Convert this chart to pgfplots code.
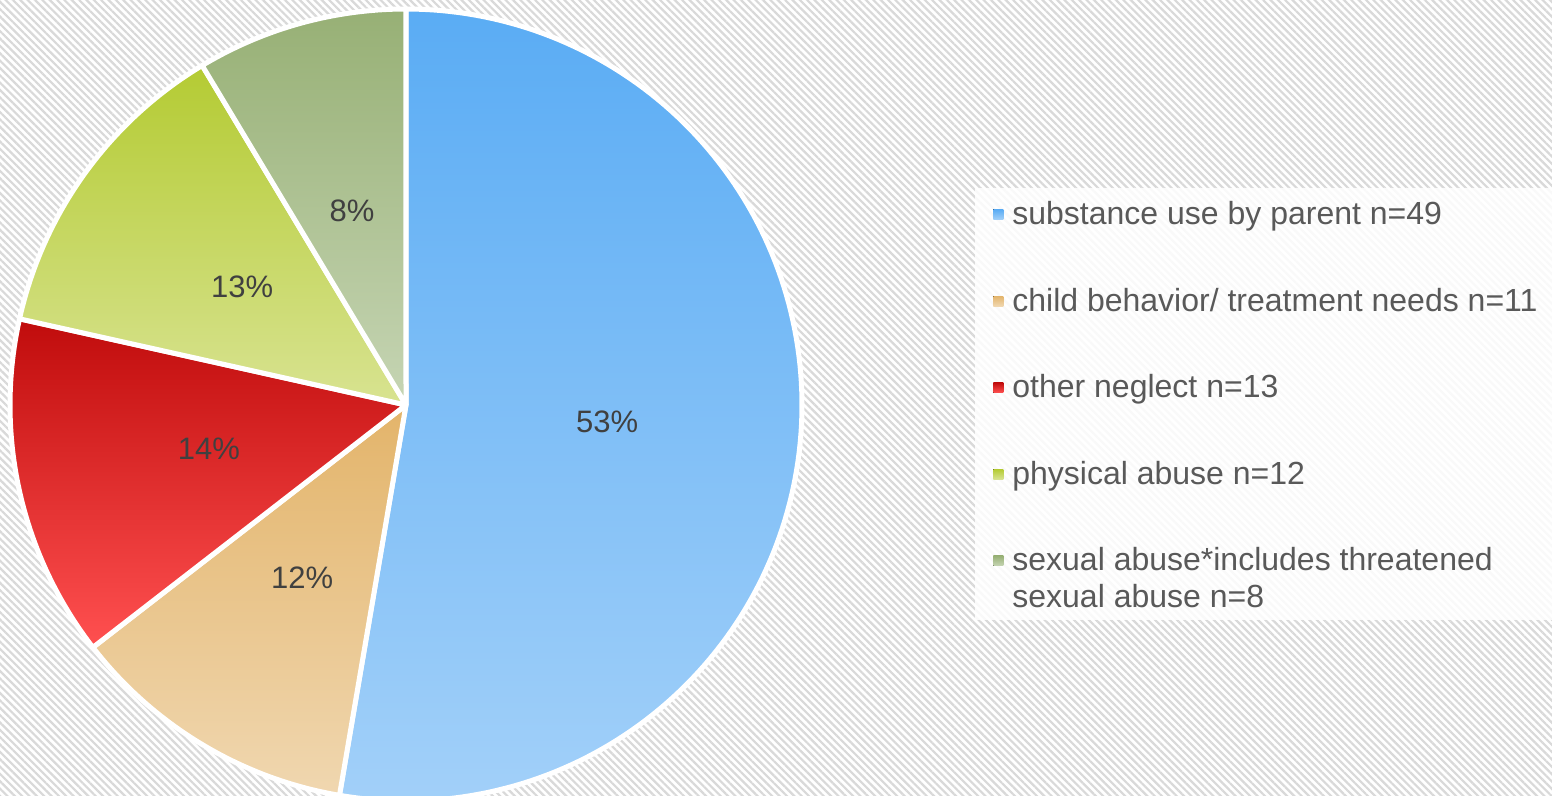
\documentclass[border=0pt]{standalone}
\usepackage{pgfplots}
\pgfplotsset{compat=1.18}
\usepackage{pgfplotstable}
\usetikzlibrary{patterns.meta}
\usepackage{fontspec}
\setmainfont{Liberation Sans}

\definecolor{blueT}{HTML}{5AACF4}
\definecolor{blueB}{HTML}{A2D0F9}
\definecolor{tanT}{HTML}{E3B46A}
\definecolor{tanB}{HTML}{F0D7B0}
\definecolor{redT}{HTML}{C00C0C}
\definecolor{redB}{HTML}{FF5050}
\definecolor{grnT}{HTML}{B4CB33}
\definecolor{grnB}{HTML}{D8E391}
\definecolor{sxT}{HTML}{97B075}
\definecolor{sxB}{HTML}{C6D5B4}
\definecolor{lblgray}{HTML}{404040}
\definecolor{leggray}{HTML}{595959}

% counts and displayed percentages
\pgfplotstableread{
n pct
49 53
11 12
13 14
12 13
8 8
}\piedata

\pgfplotstablegetelem{0}{n}\of\piedata \let\nA\pgfplotsretval
\pgfplotstablegetelem{1}{n}\of\piedata \let\nB\pgfplotsretval
\pgfplotstablegetelem{2}{n}\of\piedata \let\nC\pgfplotsretval
\pgfplotstablegetelem{3}{n}\of\piedata \let\nD\pgfplotsretval
\pgfplotstablegetelem{4}{n}\of\piedata \let\nE\pgfplotsretval
\pgfplotstablegetelem{0}{pct}\of\piedata \let\pA\pgfplotsretval
\pgfplotstablegetelem{1}{pct}\of\piedata \let\pB\pgfplotsretval
\pgfplotstablegetelem{2}{pct}\of\piedata \let\pC\pgfplotsretval
\pgfplotstablegetelem{3}{pct}\of\piedata \let\pD\pgfplotsretval
\pgfplotstablegetelem{4}{pct}\of\piedata \let\pE\pgfplotsretval

\pgfmathsetmacro\tot{\nA+\nB+\nC+\nD+\nE}
\pgfmathsetmacro\aA{90}
\pgfmathsetmacro\aB{\aA-360*(\nA/\tot)}
\pgfmathsetmacro\aC{\aB-360*(\nB/\tot)}
\pgfmathsetmacro\aD{\aC-360*(\nC/\tot)}
\pgfmathsetmacro\aE{\aD-360*(\nD/\tot)}
\pgfmathsetmacro\aF{\aE-360*(\nE/\tot)}

\def\cx{406}
\def\cy{391}
\def\R{396}
\def\lr{0.51}

\begin{document}
\begin{tikzpicture}
\begin{axis}[
  scale only axis,
  width=776pt, height=398pt,
  xmin=0, xmax=1552, ymin=0, ymax=796,
  axis lines=none,
  clip=true,
  axis background/.style={preaction={fill=white},
    pattern={Lines[angle=-45,distance=2.6pt,line width=1.1pt]}, pattern color=gray!30},
  legend cell align=left,
  legend style={at={(axis cs:993,595)}, anchor=north west,
    fill=none, draw=none,
    font=\fontsize{16}{18.5}\selectfont, text=leggray,
    inner sep=0pt, row sep=30.2pt,
    nodes={inner ysep=0pt, inner xsep=4.5pt}},
]
\addplot[draw=white, line width=2.5pt, line join=round, top color=blueT, bottom color=blueB,
  domain=\aB:\aA, samples=150, forget plot]
  ({\cx+\R*cos(x)},{\cy+\R*sin(x)}) -- (axis cs:\cx,\cy) -- cycle;
\addplot[draw=white, line width=2.5pt, line join=round, top color=tanT, bottom color=tanB,
  domain=\aC:\aB, samples=50, forget plot]
  ({\cx+\R*cos(x)},{\cy+\R*sin(x)}) -- (axis cs:\cx,\cy) -- cycle;
\addplot[draw=white, line width=2.5pt, line join=round, top color=redT, bottom color=redB,
  domain=\aD:\aC, samples=50, forget plot]
  ({\cx+\R*cos(x)},{\cy+\R*sin(x)}) -- (axis cs:\cx,\cy) -- cycle;
\addplot[draw=white, line width=2.5pt, line join=round, top color=grnT, bottom color=grnB,
  domain=\aE:\aD, samples=50, forget plot]
  ({\cx+\R*cos(x)},{\cy+\R*sin(x)}) -- (axis cs:\cx,\cy) -- cycle;
\addplot[draw=white, line width=2.5pt, line join=round, top color=sxT, bottom color=sxB,
  domain=\aF:\aE, samples=40, forget plot]
  ({\cx+\R*cos(x)},{\cy+\R*sin(x)}) -- (axis cs:\cx,\cy) -- cycle;

\pgfmathsetmacro\mA{(\aA+\aB)/2}
\pgfmathsetmacro\mB{(\aB+\aC)/2}
\pgfmathsetmacro\mC{(\aC+\aD)/2}
\pgfmathsetmacro\mD{(\aD+\aE)/2}
\pgfmathsetmacro\mE{(\aE+\aF)/2}
\begin{scope}[every node/.style={font=\fontsize{15.5}{18}\selectfont, text=lblgray}]
\node at (axis cs:{\cx+\lr*\R*cos(\mA)},{\cy+\lr*\R*sin(\mA)}) {\pA\%};
\node at (axis cs:{\cx+\lr*\R*cos(\mB)},{\cy+\lr*\R*sin(\mB)}) {\pB\%};
\node at (axis cs:{\cx+\lr*\R*cos(\mC)},{\cy+\lr*\R*sin(\mC)}) {\pC\%};
\node at (axis cs:{\cx+\lr*\R*cos(\mD)},{\cy+\lr*\R*sin(\mD)}) {\pD\%};
\node at (axis cs:{\cx+\lr*\R*cos(\mE)},{\cy+\lr*\R*sin(\mE)}) {\pE\%};
\end{scope}

% legend panel
\fill[white, fill opacity=0.85] (axis cs:975,176) rectangle (axis cs:1552,608);

\addlegendimage{legend image code/.code={\fill[draw=none,top color=blueT,bottom color=blueB] (0pt,-2.5pt) rectangle (5pt,2.5pt);}}
\addlegendentry{substance use by parent n=\nA}
\addlegendimage{legend image code/.code={\fill[draw=none,top color=tanT,bottom color=tanB] (0pt,-2.5pt) rectangle (5pt,2.5pt);}}
\addlegendentry{child behavior/ treatment needs n=\nB}
\addlegendimage{legend image code/.code={\fill[draw=none,top color=redT,bottom color=redB] (0pt,-2.5pt) rectangle (5pt,2.5pt);}}
\addlegendentry{other neglect n=\nC}
\addlegendimage{legend image code/.code={\fill[draw=none,top color=grnT,bottom color=grnB] (0pt,-2.5pt) rectangle (5pt,2.5pt);}}
\addlegendentry{physical abuse n=\nD}
\addlegendimage{legend image code/.code={\fill[draw=none,top color=sxT,bottom color=sxB] (0pt,-2.5pt) rectangle (5pt,2.5pt);}}
\addlegendentry{\parbox[t]{255pt}{sexual abuse*includes threatened\newline sexual abuse n=\nE}}
\end{axis}
\end{tikzpicture}
\end{document}
